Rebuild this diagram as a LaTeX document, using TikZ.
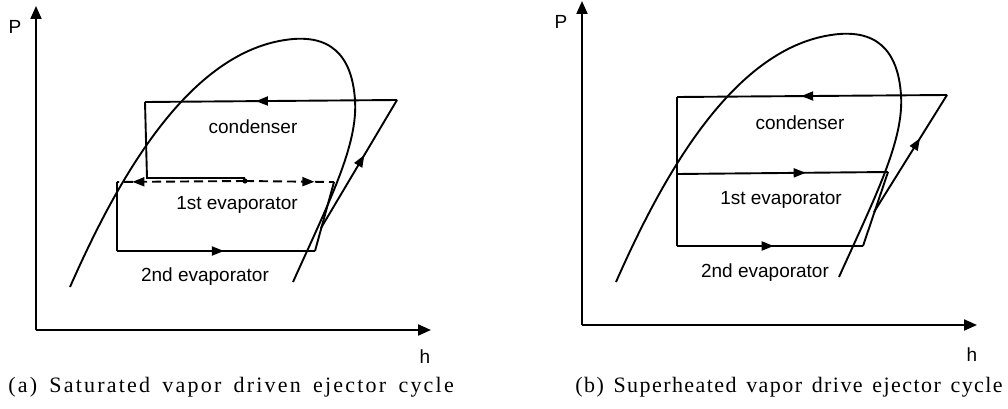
\documentclass[tikz,border=0pt]{standalone}
\usepackage{fontspec}
\setmainfont{Liberation Serif}
\setsansfont{Liberation Sans}
\newfontfamily\capfont[LetterSpace=10,WordSpace=1.6]{Liberation Serif}
\newfontfamily\capfontb[LetterSpace=6.5,WordSpace=1.4]{Liberation Serif}
\usetikzlibrary{arrows.meta,decorations.markings}
\begin{document}
\begin{tikzpicture}[x=1pt,y=-1pt,
  line/.style={line width=1.9pt, line join=miter},
  axisline/.style={line width=2pt,-{Triangle[length=13pt,width=11pt]}},
  lbl/.style={font=\sffamily\fontsize{19}{21}\selectfont, inner sep=0pt},
  captext/.style={font=\capfont\fontsize{22}{26}\selectfont, inner sep=0pt},
  captextb/.style={font=\capfontb\fontsize{22}{26}\selectfont, inner sep=0pt},
  marr/.style={postaction={decorate},decoration={markings,mark=at position #1 with {\arrow{Triangle[length=12pt,width=9pt]}}}},
  dashline/.style={line width=1.9pt, dash pattern=on 9pt off 5pt},
]
\useasboundingbox (0,0) rectangle (1008,409);
\fill[white] (0,0) rectangle (1008,409);

% shared parts: axes and saturation dome
\foreach \sx/\sy/\id in {0/0/a, 546/-5/b}{
  \begin{scope}[shift={(\sx,\sy)}]
    \coordinate (O\id) at (36,330);
    \coordinate (Ptop\id) at (36,6);
    \coordinate (Hend\id) at (431,330);
    \draw[axisline] (O\id) -- (Ptop\id);
    \draw[axisline] (O\id) -- (Hend\id);
    \node[lbl] (P\id) at (15,27) {P};
    \draw[line] (70,287) .. controls (115,185) and (185,55) .. (285,40)
                .. controls (330,33) and (352,55) .. (355,100)
                .. controls (358,145) and (330,200) .. (293,282);
  \end{scope}
}
\node[lbl] (ha) at (425,357) {h};
\node[lbl] (hb) at (972,355) {h};

% ---------- cycle (a) ----------
\coordinate (a1) at (397,100);
\coordinate (a2) at (145,102);
\coordinate (a3) at (147,178);
\coordinate (a4) at (245,178);
\coordinate (a5) at (245,181);
\coordinate (a6) at (117,182);
\coordinate (a7) at (334,182);
\coordinate (a8) at (117,251);
\coordinate (a9) at (315,251);
\coordinate (a10) at (321,228);
\draw[line, marr=0.56] (a1) -- (a2);
\draw[line] (a2) -- (a3) -- (a4);
\fill (a5) circle (2.6pt);
\draw[dashline, marr=0.88] (a5) -- (a6);
\draw[dashline, marr=0.78] (a5) -- (a7);
\draw[line] (a6) -- (a8);
\draw[line, marr=0.54] (a8) -- (a9);
\draw[line] (a9) -- (a7);
\draw[line, marr=0.57] (a10) -- (a1);
\node[lbl] (conda) at (253,127) {condenser};
\node[lbl] (ev1a) at (237,205) {1st evaporator};
\node[lbl] (ev2a) at (205,277) {2nd evaporator};

% ---------- cycle (b) ----------
\coordinate (b1) at (947,95);
\coordinate (b2) at (677,97);
\coordinate (b3) at (677,174);
\coordinate (b4) at (888,172);
\coordinate (b5) at (677,246);
\coordinate (b6) at (863,246);
\coordinate (b7) at (874,212);
\draw[line, marr=0.54] (b1) -- (b2);
\draw[line] (b2) -- (b5);
\draw[line, marr=0.61] (b3) -- (b4);
\draw[line] (b4) -- (b6);
\draw[line, marr=0.52] (b5) -- (b6);
\draw[line, marr=0.63] (b7) -- (b1);
\node[lbl] (condb) at (800,123) {condenser};
\node[lbl] (ev1b) at (781,200) {1st evaporator};
\node[lbl] (ev2b) at (765,273) {2nd evaporator};

% captions
\node[captext] (capa) at (231,387) {(a) Saturated vapor driven ejector cycle};
\node[captextb] (capb) at (789,387) {(b) Superheated vapor drive ejector cycle};
\end{tikzpicture}
\end{document}
